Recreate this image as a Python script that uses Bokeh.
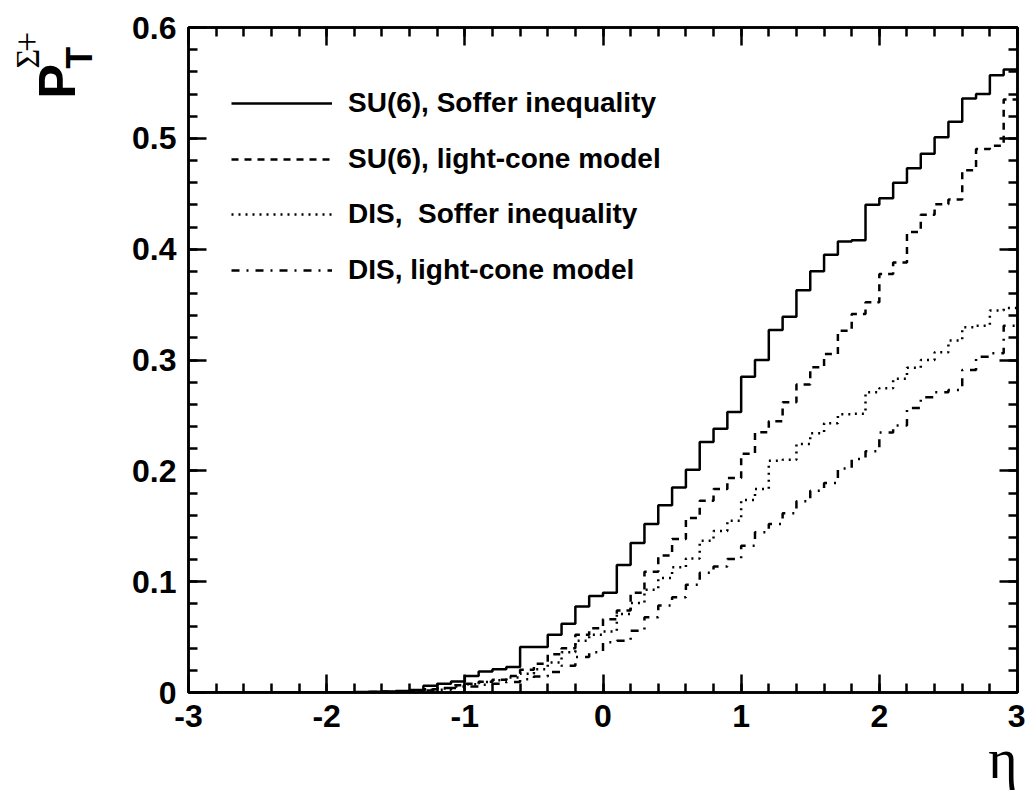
import numpy as np
from bokeh.plotting import figure
from bokeh.layouts import row
from bokeh.models import (Range1d, LinearAxis, FixedTicker, Legend, LegendItem, Label, Title)
from bokeh.embed import file_html
from bokeh.resources import INLINE

# ---- data (60 bins of width 0.1 from -3 to 3) ----
bin_edges = np.round(np.linspace(-3.0, 3.0, 61), 1)

su6_soffer = [0]*10 + [
    0.0001, 0.0002, 0.0004, 0.0006, 0.0009, 0.0014, 0.0022, 0.006, 0.008, 0.010,
    0.015, 0.019, 0.021, 0.023, 0.041, 0.041, 0.052, 0.062, 0.0775, 0.087,
    0.090, 0.115, 0.135, 0.152, 0.169, 0.185, 0.201, 0.226, 0.238, 0.253,
    0.285, 0.300, 0.327, 0.339, 0.363, 0.380, 0.395, 0.407, 0.408, 0.440,
    0.446, 0.460, 0.473, 0.486, 0.501, 0.515, 0.536, 0.540, 0.557, 0.562]

su6_lightcone = [0]*10 + [
    0.0, 0.0001, 0.0002, 0.0004, 0.0006, 0.001, 0.0015, 0.003, 0.004, 0.0065,
    0.008, 0.0097, 0.0115, 0.015, 0.0205, 0.026, 0.0345, 0.040, 0.052, 0.058,
    0.066, 0.074, 0.090, 0.109, 0.1235, 0.1385, 0.1575, 0.173, 0.1836, 0.1936,
    0.2155, 0.2348, 0.2447, 0.2618, 0.2778, 0.2934, 0.3055, 0.3265, 0.3416, 0.352,
    0.3775, 0.388, 0.4155, 0.431, 0.4405, 0.4447, 0.4713, 0.4903, 0.4932, 0.535]

dis_soffer = [0]*10 + [
    0.0, 0.0001, 0.0002, 0.0003, 0.0005, 0.0008, 0.0012, 0.0025, 0.0035, 0.0055,
    0.0075, 0.0095, 0.011, 0.0135, 0.017, 0.021, 0.027, 0.0363, 0.0468, 0.052,
    0.055, 0.0708, 0.0808, 0.0928, 0.1033, 0.113, 0.121, 0.137, 0.1457, 0.155,
    0.1737, 0.1836, 0.209, 0.210, 0.2243, 0.234, 0.243, 0.251, 0.2514, 0.271,
    0.2745, 0.283, 0.2929, 0.300, 0.307, 0.3175, 0.3295, 0.331, 0.3446, 0.347]

dis_lightcone = [0]*10 + [
    0.0, 0.0, 0.0001, 0.0002, 0.0004, 0.0006, 0.0009, 0.0018, 0.0025, 0.004,
    0.0055, 0.007, 0.008, 0.0095, 0.012, 0.0145, 0.0185, 0.0242, 0.032, 0.0363,
    0.0453, 0.0468, 0.0558, 0.0678, 0.0784, 0.086, 0.0972, 0.108, 0.1136, 0.1205,
    0.1325, 0.1445, 0.152, 0.1617, 0.1725, 0.182, 0.189, 0.202, 0.2107, 0.2176,
    0.2345, 0.2408, 0.2568, 0.2664, 0.2709, 0.273, 0.291, 0.303, 0.306, 0.331]

series_labels = ["SU(6), Soffer inequality", "SU(6), light-cone model",
                 "DIS,  Soffer inequality", "DIS, light-cone model"]
x_ticks = [-3, -2, -1, 0, 1, 2, 3]
x_tick_labels = ["-3", "-2", "-1", "0", "1", "2", "3"]
y_ticks = [0, 0.1, 0.2, 0.3, 0.4, 0.5, 0.6]
y_tick_labels = ["0", "0.1", "0.2", "0.3", "0.4", "0.5", "0.6"]

FONT = "Liberation Sans"
TOTAL_W, TOTAL_H = 1025, 790
LEFT_W = 110          # helper panel holding the y-axis title

# ---- main figure ----
p = figure(width=TOTAL_W - LEFT_W, height=TOTAL_H, output_backend="svg", toolbar_location=None,
           x_range=Range1d(-3, 3), y_range=Range1d(0, 0.6),
           min_border_left=188 - LEFT_W, min_border_right=TOTAL_W - 1017,
           min_border_top=27, min_border_bottom=TOTAL_H - 692,
           x_axis_type=None, y_axis_type=None)
p.grid.visible = False
p.outline_line_color = "black"
p.outline_line_width = 2.5
p.background_fill_color = "white"
p.border_fill_color = "white"


def make_axis(ticks, labels, show_labels):
    step = (ticks[1] - ticks[0]) / 5
    minor = list(np.round(np.arange(ticks[0], ticks[-1] + 1e-9, step), 4))
    ax = LinearAxis(ticker=FixedTicker(ticks=ticks, minor_ticks=minor))
    ax.major_label_overrides = {t: l for t, l in zip(ticks, labels)}
    ax.axis_line_color = "black"
    ax.axis_line_width = 2.5
    ax.major_tick_line_width = 2.5
    ax.minor_tick_line_width = 2.5
    ax.major_tick_in = 18
    ax.major_tick_out = 0
    ax.minor_tick_in = 9
    ax.minor_tick_out = 0
    if show_labels:
        ax.major_label_text_font = FONT
        ax.major_label_text_font_style = "bold"
        ax.major_label_text_font_size = "32px"
        ax.major_label_text_color = "black"
        ax.major_label_standoff = 12
    else:
        ax.major_label_text_font_size = "0px"
        ax.major_label_text_alpha = 0
        ax.major_label_standoff = 0
    return ax


p.add_layout(make_axis(x_ticks, x_tick_labels, True), "below")
p.add_layout(make_axis(y_ticks, y_tick_labels, True), "left")
p.add_layout(make_axis(x_ticks, x_tick_labels, False), "above")
p.add_layout(make_axis(y_ticks, y_tick_labels, False), "right")

# x-axis title η, right-aligned under the end of the axis
p.add_layout(Title(text="η", align="right", vertical_align="top", offset=0, standoff=-4,
                   text_font="Liberation Serif", text_font_style="normal",
                   text_font_size="56px", text_color="black"), "below")

xs = list(bin_edges)
styles = [("solid", su6_soffer), ("7 6", su6_lightcone), ("2 5", dis_soffer), ("8 7 2 7", dis_lightcone)]
renderers = []
for dash, vals in styles:
    ys = list(vals) + [vals[-1]]
    r = p.step(xs, ys, mode="after", line_color="black", line_width=2.5, line_dash=dash)
    renderers.append(r)

# legend: one box per entry, positioned relative to the frame
row_centers = [103, 159, 214, 270]   # rows of the legend entries (page pixels)
frame_bottom = 691.8
for r, lab, yc in zip(renderers, series_labels, row_centers):
    leg = Legend(items=[LegendItem(label=lab, renderers=[r])],
                 location=(43, int(round(frame_bottom - (yc + 17)))),
                 glyph_width=101, glyph_height=34, label_height=34, label_standoff=16,
                 padding=0, margin=0, spacing=0,
                 border_line_color=None, background_fill_alpha=0,
                 label_text_font=FONT, label_text_font_style="bold",
                 label_text_font_size="28px", label_text_color="black",
                 label_text_baseline="middle")
    p.add_layout(leg)


def helper(width, height, x0, y0):
    """A bare figure whose data units are page pixels (y downwards)."""
    f = figure(width=width, height=height, output_backend="svg", toolbar_location=None,
               x_range=Range1d(x0, x0 + width), y_range=Range1d(y0 + height, y0),
               min_border=0, x_axis_type=None, y_axis_type=None)
    f.grid.visible = False
    f.outline_line_color = None
    f.background_fill_color = "white"
    f.border_fill_color = "white"
    return f


# y-axis title  P_T^(Σ+), rotated (anchors are glyph centres)
ly = helper(LEFT_W, TOTAL_H, 0, 0)
ly.add_layout(Label(x=56.5, y=64, text="P", angle=np.pi / 2, text_align="center",
                    text_baseline="middle", text_font=FONT, text_font_style="bold",
                    text_font_size="52px", text_color="black"))
ly.add_layout(Label(x=78.5, y=36, text="T", angle=np.pi / 2, text_align="center",
                    text_baseline="middle", text_font=FONT, text_font_style="bold",
                    text_font_size="36px", text_color="black"))
ly.add_layout(Label(x=26.5, y=37, text="Σ", angle=np.pi / 2, text_align="center",
                    text_baseline="middle", text_font="Liberation Serif",
                    text_font_size="34px", text_color="black"))
ly.add_layout(Label(x=26, y=17, text="+", angle=np.pi / 2, text_align="center",
                    text_baseline="middle", text_font="Liberation Serif",
                    text_font_size="36px", text_color="black"))

layout = row(ly, p)
open("out.html", "w").write(file_html(layout, INLINE))
